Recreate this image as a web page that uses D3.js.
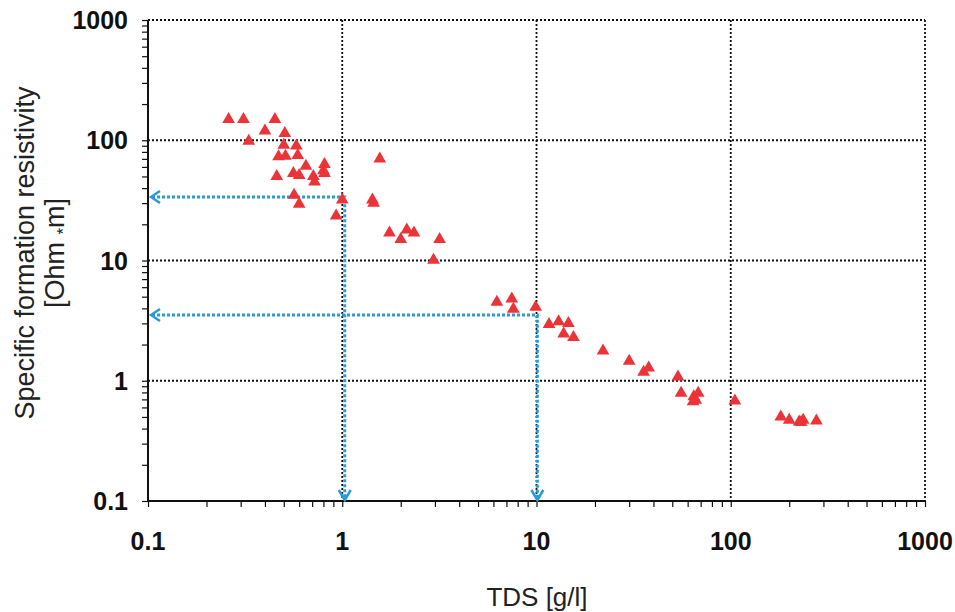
<!DOCTYPE html>
<html>
<head>
<meta charset="utf-8">
<script src="https://cdn.jsdelivr.net/npm/d3@7"></script>
<style>
  html, body { margin: 0; padding: 0; background: #fff; }
  svg { display: block; }
</style>
</head>
<body>
<svg id="chart" width="955" height="612"></svg>
<script>
// ---- data ----
const tds = [0.26, 0.31, 0.45, 0.40, 0.506, 0.33, 0.50, 0.58, 0.47, 0.51, 0.59, 0.65, 0.81, 0.80,
  0.46, 0.56, 0.60, 0.71, 0.72, 0.81, 0.565, 0.60, 1.0, 0.93,
  1.56, 1.43, 1.45, 1.75, 2.15, 2.34, 2.0, 3.17, 2.95,
  6.25, 7.46, 7.6, 9.9, 11.6, 13.0, 14.6, 13.8, 15.5,
  22, 30, 35.6, 37.8, 53.5, 55.5, 64.5, 68, 64, 66, 105,
  181, 200, 225, 236, 230, 276];
const resistivity = [149, 149, 149, 120, 114, 98.5, 91, 90, 73, 74, 75, 61, 63, 56,
  50, 53, 51, 50, 45, 53, 35, 29.5, 32, 23.5,
  70, 32, 30, 17, 18, 17, 15, 15, 10.1,
  4.5, 4.8, 3.95, 4.1, 2.95, 3.1, 3.0, 2.45, 2.3,
  1.77, 1.46, 1.18, 1.28, 1.08, 0.79, 0.74, 0.79, 0.67, 0.69, 0.68,
  0.50, 0.47, 0.455, 0.47, 0.45, 0.465];

const xTickValues = [0.1, 1, 10, 100, 1000];
const xTickLabels = ["0.1", "1", "10", "100", "1000"];
const yTickValues = [0.1, 1, 10, 100, 1000];
const yTickLabels = ["0.1", "1", "10", "100", "1000"];

// guide lines (read-off examples)
const guideTds = [1.03, 10.1];
const guideRes = [33.7, 3.52];

const xTitle = "TDS [g/l]";
const yTitle1 = "Specific formation resistivity";

// ---- layout ----
const svg = d3.select("#chart");
const L = 148, R = 925, T = 20, B = 501;

const x = d3.scaleLog().domain([0.1, 1000]).range([L, R]);
const y = d3.scaleLog().domain([0.1, 1000]).range([B, T]);

// minor tick values 1..9 per decade
const minor = [];
for (let e = -1; e < 3; e++) for (let k = 1; k <= 9; k++) minor.push(k * Math.pow(10, e));
minor.push(1000);

// grid (dotted black)
const grid = svg.append("g");
grid.selectAll("line.gx").data(xTickValues.slice(1)).enter().append("line")
  .attr("x1", d => x(d)).attr("x2", d => x(d)).attr("y1", T).attr("y2", B)
  .attr("stroke", "#111").attr("stroke-width", 1.8).attr("stroke-dasharray", "2,2");
grid.selectAll("line.gy").data(yTickValues.slice(1)).enter().append("line")
  .attr("x1", L).attr("x2", R).attr("y1", d => y(d)).attr("y2", d => y(d))
  .attr("stroke", "#111").attr("stroke-width", 1.8).attr("stroke-dasharray", "2,2");

// axes with minor ticks
const xAxis = d3.axisBottom(x).tickValues(minor).tickSize(6).tickFormat("");
const gx = svg.append("g").attr("transform", `translate(0,${B})`).call(xAxis);
const yAxis = d3.axisLeft(y).tickValues(minor).tickSize(6).tickFormat("");
const gy = svg.append("g").attr("transform", `translate(${L},0)`).call(yAxis);
[gx, gy].forEach(g => {
  g.select(".domain").attr("stroke", "#111").attr("stroke-width", 2);
  g.selectAll(".tick line").attr("stroke", "#111").attr("stroke-width", 1.2);
});
gx.select(".domain").attr("d", `M${L},0H${R}`);
gy.select(".domain").attr("d", `M0,${B}V${T}`);

// tick labels
svg.append("g").selectAll("text").data(xTickValues).enter().append("text")
  .attr("x", d => x(d)).attr("y", 550)
  .attr("text-anchor", "middle")
  .attr("font-family", "Liberation Sans, Arial, sans-serif")
  .attr("font-weight", "bold").attr("font-size", 25)
  .attr("fill", "#111")
  .text((d, i) => xTickLabels[i]);
svg.append("g").selectAll("text").data(yTickValues).enter().append("text")
  .attr("x", 128).attr("y", d => y(d) + 9)
  .attr("text-anchor", "end")
  .attr("font-family", "Liberation Sans, Arial, sans-serif")
  .attr("font-weight", "bold").attr("font-size", 25)
  .attr("fill", "#111")
  .text((d, i) => yTickLabels[i]);

// axis titles
svg.append("text").attr("x", 537).attr("y", 606)
  .attr("text-anchor", "middle")
  .attr("font-family", "Liberation Sans, Arial, sans-serif")
  .attr("font-size", 26).attr("fill", "#222")
  .text(xTitle);
const yt = svg.append("text")
  .attr("transform", "translate(34,253) rotate(-90)")
  .attr("text-anchor", "middle")
  .attr("font-family", "Liberation Sans, Arial, sans-serif")
  .attr("font-size", 27).attr("fill", "#222");
yt.append("tspan").attr("x", 0).attr("dy", 0).text(yTitle1);
const l2 = yt.append("tspan").attr("x", 0).attr("dy", 30);
l2.text("[Ohm ");
yt.append("tspan").attr("dy", 5).attr("font-size", 17).text("*");
yt.append("tspan").attr("dy", -5).text("m]");

// guide polylines (blue dotted, arrow chevrons at both ends)
const blue = "#2a9bd6";
const guides = svg.append("g");
guideTds.forEach((t, i) => {
  const r = guideRes[i];
  guides.append("path")
    .attr("d", `M${x(0.1) + 4},${y(r)}H${x(t)}V${y(0.1) - 3}`)
    .attr("fill", "none").attr("stroke", blue).attr("stroke-width", 3)
    .attr("stroke-dasharray", "3,2");
  guides.append("path")
    .attr("d", `M${x(0.1) + 12},${y(r) - 6}L${x(0.1) + 3},${y(r)}L${x(0.1) + 12},${y(r) + 6}`)
    .attr("fill", "none").attr("stroke", blue).attr("stroke-width", 2.5);
  guides.append("path")
    .attr("d", `M${x(t) - 6},${y(0.1) - 11}L${x(t)},${y(0.1) - 1}L${x(t) + 6},${y(0.1) - 11}`)
    .attr("fill", "none").attr("stroke", blue).attr("stroke-width", 2.5);
});

// points
const tri = d3.symbol().type(d3.symbolTriangle).size(70);
svg.append("g").selectAll("path").data(tds).enter().append("path")
  .attr("d", tri)
  .attr("transform", (d, i) => `translate(${x(d)},${y(resistivity[i])})`)
  .attr("fill", "#ec3338");
</script>
</body>
</html>
